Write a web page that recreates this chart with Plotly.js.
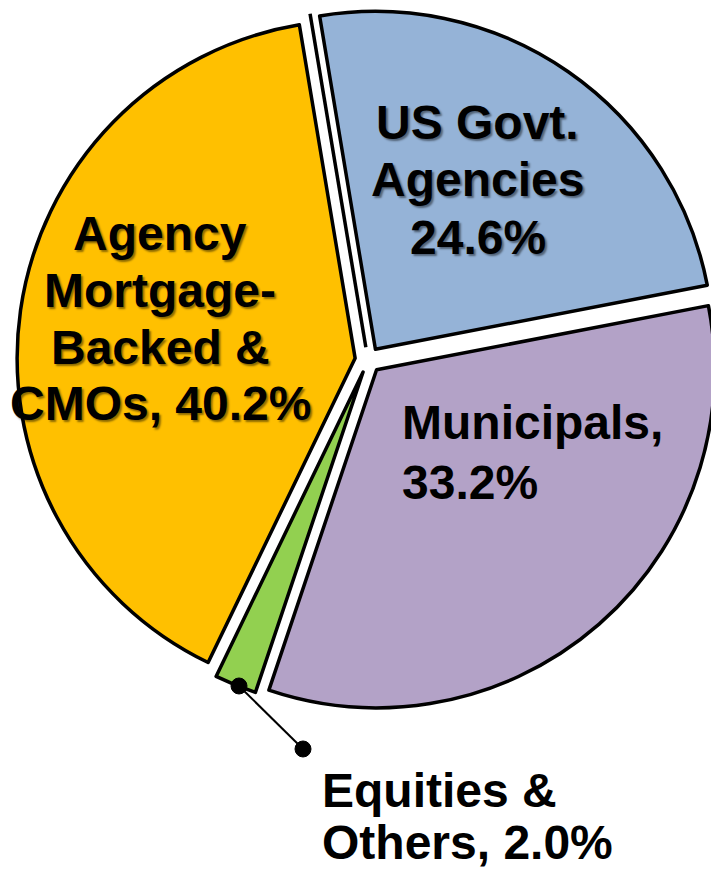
<!DOCTYPE html>
<html>
<head>
<meta charset="utf-8">
<script src="https://cdn.plot.ly/plotly-3.0.1.min.js"></script>
<style>
  html, body { margin: 0; padding: 0; overflow: hidden; background: #ffffff; width: 711px; height: 869px; }
  #chart { width: 730px; height: 869px; }
</style>
</head>
<body>
<div id="chart"></div>
<script>
// ---- data ----
const categories = ["US Govt. Agencies", "Municipals", "Equities & Others", "Agency Mortgage-Backed & CMOs"];
const shares = [24.6, 33.2, 2.0, 40.2];
const sliceColors = ["#95B3D7", "#B3A2C7", "#92D050", "#FFC000"];
const labelLines = [
  ["US Govt.", "Agencies", "24.6%"],
  ["Municipals,", "33.2%"],
  ["Equities &", "Others, 2.0%"],
  ["Agency", "Mortgage-", "Backed &", "CMOs, 40.2%"]
];

// ---- layout geometry ----
const W = 730, H = 869;
const CX = 368, CY = 360, R = 338, PULL = 0.0385, ROT = -9.5;
const half = R * (1 + PULL);
const M = { l: CX - half, t: CY - half, r: W - (CX + half), b: H - (CY + half) };
const gw = 2 * half, gh = 2 * half;
const px = x => (x - M.l) / gw;
const py = y => 1 - (y - M.t) / gh;

// label placement per slice: anchor x, alignment, line centre y's, shadow
const labelPlace = [
  { x: 478, anchor: "center", ys: [122, 179, 237], shadow: true },
  { x: 400, anchor: "left", ys: [423, 483], shadow: false },
  { x: 320, anchor: "left", ys: [791, 843], shadow: false },
  { x: 160, anchor: "center", ys: [233, 290, 347, 404], shadow: true }
];

const annotations = [];
labelLines.forEach((lines, i) => {
  const p = labelPlace[i];
  lines.forEach((t, j) => {
    annotations.push({
      xref: "paper", yref: "paper",
      x: px(p.x), y: py(p.ys[j]),
      xanchor: p.anchor, yanchor: "middle",
      text: t, showarrow: false,
      font: {
        family: "Liberation Sans, Arial, sans-serif", size: 48, color: "#000000", weight: 700,
        shadow: p.shadow ? "2px 2px 2px rgba(0,0,0,0.45)" : "none"
      }
    });
  });
});

// pulled zero-width boundary line at the start angle, and the leader line of the small slice
const th = ROT * Math.PI / 180;
const d = PULL * R;
const sx = CX + d * Math.sin(th), sy = CY - d * Math.cos(th);
const ex = sx + R * Math.sin(th), ey = sy - R * Math.cos(th);
const dot1 = [239, 686], dot2 = [303, 749], dotR = 8;
const shapes = [
  { type: "line", xref: "paper", yref: "paper", x0: px(sx), y0: py(sy), x1: px(ex), y1: py(ey),
    line: { color: "#000000", width: 3.5 } },
  { type: "line", xref: "paper", yref: "paper", x0: px(dot1[0]), y0: py(dot1[1]), x1: px(dot2[0]), y1: py(dot2[1]),
    line: { color: "#000000", width: 2 } },
  { type: "circle", xref: "paper", yref: "paper",
    x0: px(dot1[0] - dotR), x1: px(dot1[0] + dotR), y0: py(dot1[1] + dotR), y1: py(dot1[1] - dotR),
    fillcolor: "#000000", line: { color: "#000000", width: 1 } },
  { type: "circle", xref: "paper", yref: "paper",
    x0: px(dot2[0] - dotR), x1: px(dot2[0] + dotR), y0: py(dot2[1] + dotR), y1: py(dot2[1] - dotR),
    fillcolor: "#000000", line: { color: "#000000", width: 1 } }
];

const trace = {
  type: "pie",
  labels: categories,
  values: shares,
  sort: false,
  direction: "clockwise",
  rotation: ROT,
  pull: shares.map(() => PULL),
  marker: { colors: sliceColors, line: { color: "#000000", width: 3.5 } },
  textinfo: "none",
  textposition: "none",
  hoverinfo: "none",
  showlegend: false
};

const layout = {
  width: W, height: H,
  margin: { l: M.l, r: M.r, t: M.t, b: M.b, pad: 0 },
  paper_bgcolor: "#ffffff",
  plot_bgcolor: "#ffffff",
  showlegend: false,
  annotations: annotations,
  shapes: shapes
};

Plotly.newPlot("chart", [trace], layout, { displayModeBar: false, staticPlot: true });
</script>
</body>
</html>
